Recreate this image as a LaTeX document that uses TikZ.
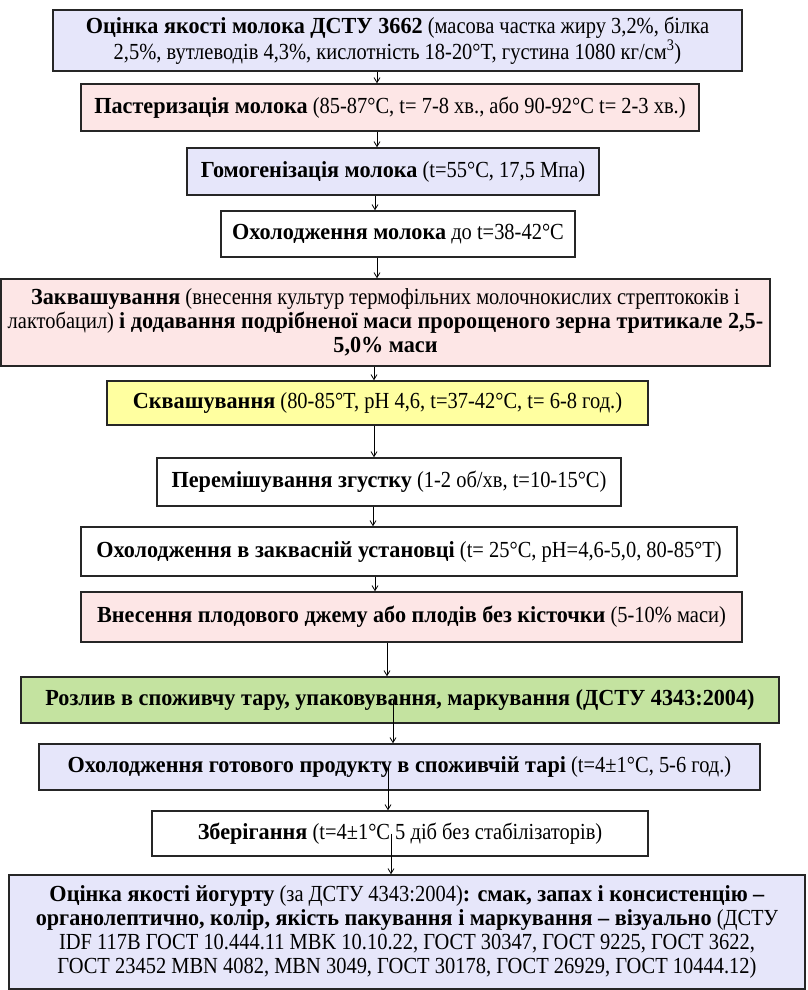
\documentclass[tikz,border=0pt]{standalone}
\usepackage{fontspec}
\setmainfont{Liberation Serif}[FakeStretch=0.89, BoldFeatures={FakeStretch=0.965}]
\usetikzlibrary{arrows.meta}
\definecolor{lavend}{HTML}{E6E6FA}
\definecolor{pinkbox}{HTML}{FDE6E6}
\definecolor{yellowbox}{HTML}{FFFFA0}
\definecolor{greenbox}{HTML}{C4E3A0}
\tikzset{
    stepbox/.style={draw=black!85, line width=1.4pt, rectangle, align=center, inner sep=0pt,
        font=\fontsize{23}{24}\selectfont},
    flowarrow/.style={-{Straight Barb[length=5pt,width=6pt]}, line width=0.8pt}
}

\begin{document}
\begin{tikzpicture}[x=1pt, y=-1pt]
            \useasboundingbox (0,0) rectangle (807,990);
            \node[stepbox, fill=lavend, minimum width=689pt, minimum height=61pt] (b1) at (397.5,40.5)
                {\textbf{Оцінка якості молока ДСТУ 3662} (масова частка жиру 3,2\%, білка\\
                 2,5\%, вутлеводів 4,3\%, кислотність  18-20°T, густина 1080 кг/см\textsuperscript{3})};
            \node[stepbox, fill=pinkbox, minimum width=618pt, minimum height=47pt] (b2) at (390,107.5)
                {\textbf{Пастеризація молока} (85-87°C, t= 7-8 хв., або 90-92°C t= 2-3 хв.)};
            \node[stepbox, fill=lavend, minimum width=412pt, minimum height=47pt] (b3) at (393,171.5)
                {\textbf{Гомогенізація молока} (t=55°C, 17,5 Мпа)};
            \node[stepbox, fill=white, minimum width=354pt, minimum height=46pt] (b4) at (398,234)
                {\textbf{Охолодження молока} до t=38-42°C};
            \node[stepbox, fill=pinkbox, minimum width=769pt, minimum height=87pt] (b5) at (385.5,322.5)
                {\textbf{Заквашування} (внесення  культур термофільних молочнокислих  стрептококів і\\
                 лактобацил) \textbf{і додавання подрібненої маси пророщеного  зерна тритикале 2,5-}\\
                 \textbf{5,0\% маси}};
            \node[stepbox, fill=yellowbox, minimum width=541pt, minimum height=44pt] (b6) at (377.5,403)
                {\textbf{Сквашування} (80-85°T, pH 4,6,  t=37-42°C, t= 6-8 год.)};
            \node[stepbox, fill=white, minimum width=464pt, minimum height=48pt] (b7) at (389,482)
                {\textbf{Перемішування згустку} (1-2 об/хв,  t=10-15°C)};
            \node[stepbox, fill=white, minimum width=656pt, minimum height=49pt] (b8) at (409,551.5)
                {\textbf{Охолодження в заквасній установці}  (t= 25°C, pH=4,6-5,0, 80-85°T)};
            \node[stepbox, fill=pinkbox, minimum width=661pt, minimum height=50pt] (b9) at (411.5,617)
                {\textbf{Внесення плодового джему або плодів без кісточки} (5-10\% маси)};
            \node[stepbox, fill=greenbox, minimum width=758pt, minimum height=46pt] (b10) at (400,700)
                {\textbf{Розлив в  споживчу тару, упаковування,  маркування (ДСТУ 4343:2004)}};
            \node[stepbox, fill=lavend, minimum width=721pt, minimum height=46pt] (b11) at (399.5,767)
                {\textbf{Охолодження готового продукту в  споживчій тарі} (t=4±1°C, 5-6 год.)};
            \node[stepbox, fill=white, minimum width=496pt, minimum height=45pt] (b12) at (400,833.5)
                {\textbf{Зберігання} (t=4±1°C 5 діб без стабілізаторів)};
            \node[stepbox, fill=lavend, minimum width=796pt, minimum height=114pt] (b13) at (407,932)
                {\textbf{Оцінка якості йогурту} (за ДСТУ 4343:2004)\textbf{: смак, запах і консистенцію –}\\
                 \textbf{органолептично, колір, якість пакування і маркування – візуально}  (ДСТУ\\
                 IDF 117B  ГОСТ 10.444.11 MBK 10.10.22,  ГОСТ 30347, ГОСТ 9225, ГОСТ 3622,\\
                 ГОСТ 23452 MBN 4082, MBN 3049, ГОСТ 30178, ГОСТ 26929, ГОСТ 10444.12)};
            \foreach \a/\b/\x in {b1/b2/377, b2/b3/377, b3/b4/375, b4/b5/377, b5/b6/374,
                                  b6/b7/374, b7/b8/373, b8/b9/375, b9/b10/387}
                \draw[flowarrow] (\x,0 |- \a.south) -- (\x,0 |- \b.north);
            \foreach \a/\b/\x in {b10/b11/393, b11/b12/388, b12/b13/391}
                \draw[flowarrow] (\x,0 |- \a.center) -- (\x,0 |- \b.north);
        \end{tikzpicture}
\end{document}
